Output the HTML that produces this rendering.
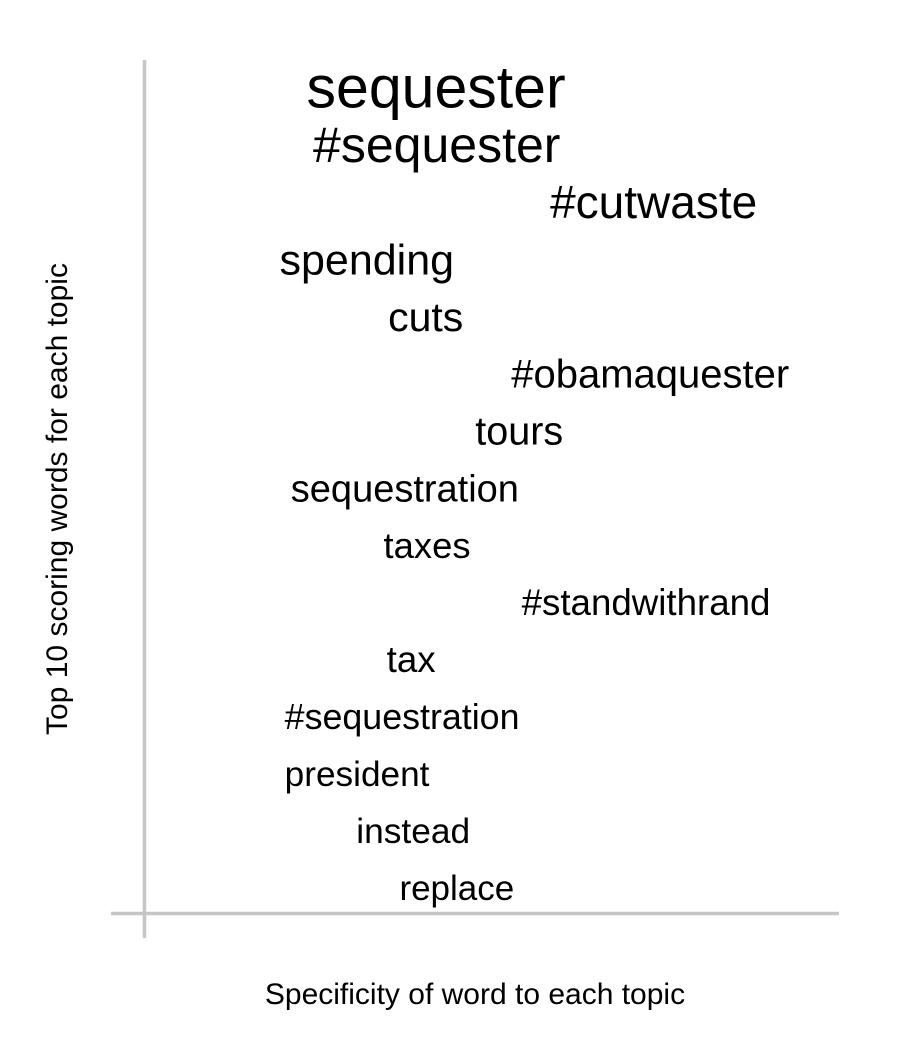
<!DOCTYPE html>
<html><head><meta charset="utf-8">
<style>
html,body{margin:0;padding:0;background:#fff;}
svg{display:block;font-family:"Liberation Sans",Arial,sans-serif;}
</style></head>
<body>
<svg id="chart" width="900" height="1050" viewBox="0 0 900 1050">
  <line x1="144.5" y1="60" x2="144.5" y2="938" stroke="#c6c6c6" stroke-width="3.5"/>
  <line x1="111" y1="913.5" x2="839" y2="913.5" stroke="#c6c6c6" stroke-width="3.5"/>
  <text x="475" y="1004" font-size="30" text-anchor="middle" fill="#000">Specificity of word to each topic</text>
  <text transform="translate(67,499) rotate(-90)" font-size="30" text-anchor="middle" fill="#000">Top 10 scoring words for each topic</text>
  <g id="words"></g>
</svg>
<script>
const words = ["sequester","#sequester","#cutwaste","spending","cuts","#obamaquester","tours","sequestration","taxes","#standwithrand","tax","#sequestration","president","instead","replace"];
const specificity = [0.420,0.421,0.734,0.320,0.405,0.729,0.540,0.375,0.407,0.723,0.384,0.371,0.306,0.387,0.450];
const scores = [59,50,46,43,41,40,39.6,38,36.4,36.7,36.7,35.8,35.2,35.3,35];

const xScale = v => 145 + v * 693;
const yScale = i => 92 + i * 57.06;
const g = document.getElementById('words');
const NS = 'http://www.w3.org/2000/svg';
words.forEach((w, i) => {
  const t = document.createElementNS(NS, 'text');
  t.setAttribute('x', xScale(specificity[i]));
  t.setAttribute('y', yScale(i) + scores[i] * 0.26);
  t.setAttribute('font-size', scores[i]);
  t.setAttribute('text-anchor', 'middle');
  t.setAttribute('fill', '#000');
  t.textContent = w;
  
  
  g.appendChild(t);
});
</script>
</body></html>
